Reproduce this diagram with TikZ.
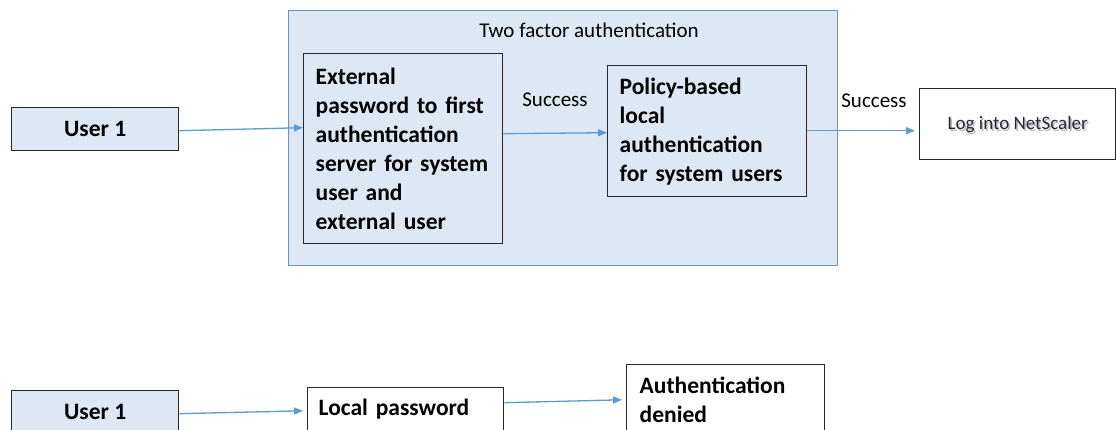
\documentclass[tikz,border=0pt]{standalone}
\usepackage{fontspec}
\setmainfont{Carlito}
\usetikzlibrary{arrows.meta}
\definecolor{lblue}{RGB}{222,232,244}
\definecolor{cborder}{RGB}{110,145,190}
\definecolor{arr}{RGB}{91,155,213}
\definecolor{bdr}{RGB}{40,40,40}
\begin{document}
\begin{tikzpicture}[x=1pt,y=-1pt,
  box/.style={draw=bdr,line width=1.4pt,rectangle,inner ysep=0pt,anchor=north west},
  userbox/.style={box,fill=lblue,minimum width=167pt,minimum height=43pt,inner xsep=0pt,font=\fontsize{23.5}{29}\selectfont\bfseries},
  txtbox/.style={box,align=left,inner xsep=12pt,font=\fontsize{23.5}{29}\selectfont\bfseries},
  flow/.style={draw=arr,line width=1.3pt,-{Triangle[length=9pt,width=7pt]}},
  lbl/.style={font=\fontsize{21}{25}\selectfont}]
\useasboundingbox (0,0) rectangle (1116,430);
\clip (0,0) rectangle (1116,430);
\fill[white] (0,0) rectangle (1116,430);
% container
\node[draw=cborder,fill=lblue,line width=1.2pt,anchor=north west,minimum width=549pt,minimum height=255pt,inner sep=0pt] (tfa) at (288,10) {};
\node[lbl] (title) at (589,30) {Two factor authentication};
% top row
\node[userbox] (u1) at (11,107) {User 1};
\node[txtbox,text width=175pt,minimum width=199pt,minimum height=190pt] (ext) at (303,53)
  {External\\password to first\\authentication\\server for system\\user and\\external user};
\node[txtbox,text width=175pt,minimum width=199pt,minimum height=131pt] (pol) at (607,65)
  {Policy-based\\local\\authentication\\for system users};
\node[box,fill=white,minimum width=196pt,minimum height=71pt,inner xsep=0pt] (log) at (919,88) {};
\node[text=black!45,opacity=0.6,font=\fontsize{19}{23}\selectfont] (logsh) at ([xshift=1.5pt,yshift=-2pt]log.center) {Log into NetScaler};
\node[text={rgb,255:red,40;green,40;blue,60},font=\fontsize{19}{23}\selectfont] (logt) at (log.center) {Log into NetScaler};
\node[lbl] (s1) at (555,100) {Success};
\node[lbl] (s2) at (874,101) {Success};
% bottom row
\node[userbox] (u1b) at (11,390) {User 1};
\node[txtbox,fill=white,inner xsep=11pt,text width=174pt,minimum width=196pt,minimum height=43pt] (lp) at (307,387) {Local password};
\node[txtbox,fill=white,inner xsep=13pt,text width=172pt,minimum width=198pt,minimum height=70pt] (ad) at (626,364) {Authentication\\denied};
% connectors
\draw[flow] ([yshift=-1.5pt]u1.east) -- ([yshift=21pt]ext.west);
\draw[flow] ([yshift=15pt]ext.east) -- ([yshift=-1.5pt]pol.west);
\draw[flow,shorten >=4pt] ([yshift=0.5pt]pol.east) -- ([yshift=-6.5pt]log.west);
\draw[flow,shorten >=4pt] ([yshift=-1.5pt]u1b.east) -- ([yshift=-1.5pt]lp.west);
\draw[flow,shorten >=4pt] ([yshift=6.5pt]lp.east) -- (ad.west);
\end{tikzpicture}
\end{document}
